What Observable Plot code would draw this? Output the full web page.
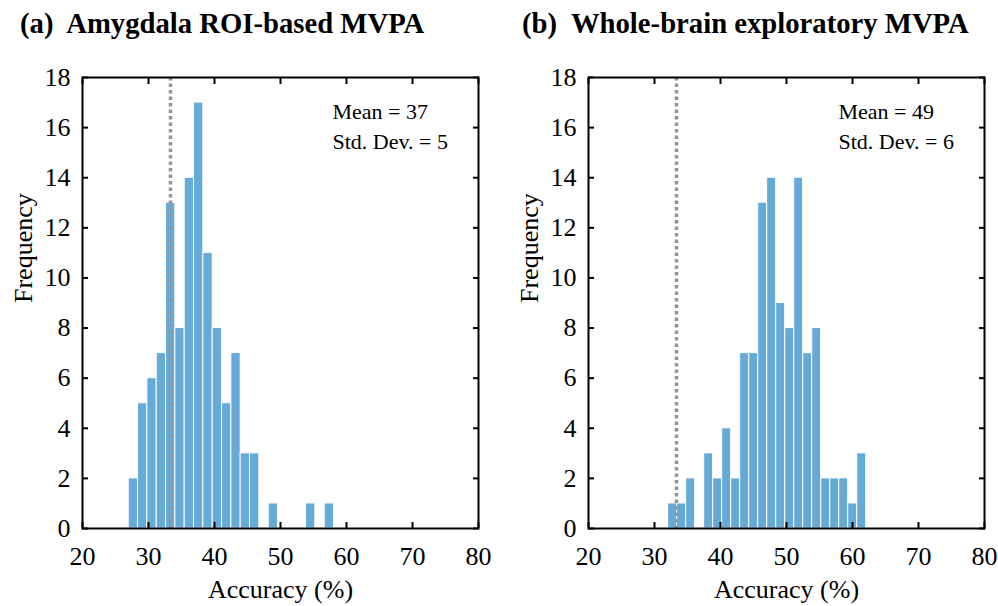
<!DOCTYPE html>
<html><head><meta charset="utf-8">
<script src="https://cdn.jsdelivr.net/npm/d3@7"></script>
<script src="https://cdn.jsdelivr.net/npm/@observablehq/plot@0.6"></script>
<style>
body{margin:0;background:#fff;}
#wrap{width:998px;height:606px;display:flex;}
.col{width:499px;height:606px;}
.title{height:50px;box-sizing:border-box;padding-top:7px;font:bold 28.7px 'Liberation Serif','Times New Roman',serif;line-height:33px;white-space:pre;color:#000;}
svg text{font-family:'Liberation Serif','Times New Roman',serif;}
</style></head>
<body><div id="wrap"></div>
<script>
const panelTitles = ["(a)  Amygdala ROI-based MVPA", "(b)  Whole-brain exploratory MVPA"];
const countsA = [2,5,6,7,13,8,14,17,11,8,5,7,3,3,0,1,0,0,0,1,0,1];
const binStartA = 27.0, binWidthA = 1.414;
const countsB = [1,1,2,0,3,2,4,2,7,7,13,14,9,8,14,7,8,2,2,2,1,3];
const binStartB = 32.07, binWidthB = 1.364;
const means = [37, 49];
const sds = [5, 6];
const chanceLevel = 33.33;
const xTicks = [20,30,40,50,60,70,80];
const yTicks = [0,2,4,6,8,10,12,14,16,18];
const xLabel = "Accuracy (%)";
const yLabel = "Frequency";

const FONT = "'Liberation Serif','Times New Roman',serif";
const TL = 6;

function bins(counts, start, w) {
  return counts.map((c, i) => ({x1: start + i * w, x2: start + (i + 1) * w, count: c})).filter(d => d.count > 0);
}

function panel(counts, start, w, mean, sd, ml, mr) {
  const data = bins(counts, start, w);
  const noText = () => "";
  return Plot.plot({
    width: 499, height: 556,
    marginLeft: ml, marginRight: mr, marginTop: 27, marginBottom: 78,
    style: `font-family:${FONT};font-size:26px;color:black;background:white;`,
    x: {domain: [20, 80]},
    y: {domain: [0, 18]},
    marks: [
      Plot.rectY(data, {x1: "x1", x2: "x2", y: "count", fill: "#66aad7", stroke: "#ffffff", strokeWidth: 1}),
      Plot.ruleX([chanceLevel], {stroke: "#959595", strokeWidth: 3.5, strokeDasharray: "3.5,3"}),
      Plot.axisX({anchor: "bottom", ticks: xTicks, tickSize: 0, tickPadding: 18, fontSize: 26, fontFamily: FONT, label: null}),
      Plot.axisY({anchor: "left", ticks: yTicks, tickSize: 0, tickPadding: 12, fontSize: 26, fontFamily: FONT, label: null}),
      Plot.axisX({anchor: "bottom", ticks: xTicks, tickSize: TL, dy: -TL, strokeWidth: 2, tickFormat: noText, label: null}),
      Plot.axisX({anchor: "top", ticks: xTicks, tickSize: TL, dy: TL, strokeWidth: 2, tickFormat: noText, label: null}),
      Plot.axisY({anchor: "left", ticks: yTicks, tickSize: TL, dx: TL, strokeWidth: 2, tickFormat: noText, label: null}),
      Plot.axisY({anchor: "right", ticks: yTicks, tickSize: TL, dx: -TL, strokeWidth: 2, tickFormat: noText, label: null}),
      Plot.text([xLabel], {frameAnchor: "bottom", dy: 69, fontSize: 26, fontFamily: FONT, fill: "black"}),
      Plot.text([yLabel], {frameAnchor: "left", dx: -59, rotate: -90, fontSize: 26, fontFamily: FONT, fill: "black"}),
      Plot.text([`Mean = ${mean}\nStd. Dev. = ${sd}`], {frameAnchor: "top-left", dx: 250, dy: 20, textAnchor: "start", lineAnchor: "top", lineHeight: 1.36, fontSize: 22, fontFamily: FONT, fill: "black"}),
      Plot.frame({stroke: "black", strokeWidth: 2})
    ]
  });
}

const wrap = document.getElementById("wrap");
const specs = [
  {counts: countsA, start: binStartA, w: binWidthA, ml: 82, mr: 21, pad: 20},
  {counts: countsB, start: binStartB, w: binWidthB, ml: 89, mr: 14, pad: 23}
];
specs.forEach((s, i) => {
  const col = document.createElement("div");
  col.className = "col";
  const t = document.createElement("div");
  t.className = "title";
  t.style.paddingLeft = s.pad + "px";
  t.textContent = panelTitles[i];
  col.appendChild(t);
  col.appendChild(panel(s.counts, s.start, s.w, means[i], sds[i], s.ml, s.mr));
  wrap.appendChild(col);
});
</script>
</body></html>
